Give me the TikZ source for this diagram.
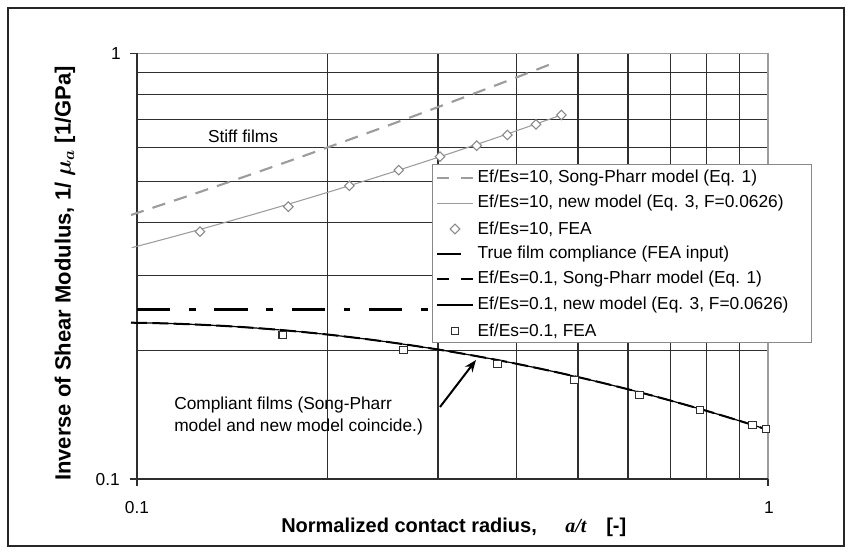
\documentclass[tikz,border=0pt]{standalone}
\usepackage{amsmath}
\usepackage{fontspec}
\setmainfont{Liberation Sans}
\newfontfamily\serifit{Liberation Serif}
\usetikzlibrary{arrows.meta,shapes.geometric}
\definecolor{gridc}{HTML}{2E2E2E}
\definecolor{lgray}{HTML}{9C9C9C}
\definecolor{mgray}{HTML}{888888}
\begin{document}
\begin{tikzpicture}[x=0.75pt,y=-0.75pt,
  gridline/.style={draw=gridc, line width=0.9pt},
  borderline/.style={draw=lgray, line width=0.8pt},
  axisline/.style={draw=gridc, line width=0.9pt},
  stiffsp/.style={draw=lgray, line width=1.6pt, dash pattern=on 10pt off 7pt},
  stiffnew/.style={draw=lgray, line width=0.8pt},
  softsp/.style={draw=black, line width=1.5pt, dash pattern=on 12pt off 4pt},
  softnew/.style={draw=black, line width=0.9pt},
  truefilm/.style={draw=black, line width=2.2pt, dash pattern=on 25pt off 14pt on 5pt off 14pt},
  truefilmleg/.style={draw=black, line width=2.2pt},
  diammark/.style={shape=diamond, draw=mgray, fill=white, line width=0.8pt, minimum width=7.5pt, minimum height=7.5pt, inner sep=0pt},
  sqmark/.style={shape=rectangle, draw=gridc, fill=white, line width=0.8pt, minimum size=5.6pt, inner sep=0pt},
  txt/.style={font=\fontsize{13}{15.6}\selectfont, inner sep=0pt},
  leg/.style={txt, anchor=west},
  ]
\useasboundingbox (0,0) rectangle (852,552);
% outer frame
\draw[line width=0.8pt, black!85] (8,8) rectangle (844,546);
% grid
\foreach \v in {0.2,0.3,0.4,0.5,0.6,0.7,0.8,0.9}
  \draw[gridline] (137,{53.3-425*log10(\v)}) -- (768,{53.3-425*log10(\v)});
\foreach \a in {0.2,0.3,0.4,0.5,0.6,0.7,0.8,0.9}
  \draw[gridline] ({768+631*log10(\a)},53.3) -- ({768+631*log10(\a)},479);
\draw[borderline] (137,53.3) -- (768,53.3) -- (768,479);
\draw[axisline] (137,53.3) -- (137,479) -- (768,479);
% ticks
\draw[axisline] (130,53.3) -- (137,53.3);
\draw[axisline] (130,479) -- (137,479);
\draw[axisline] (137,479) -- (137,486);
\draw[axisline] (768,479) -- (768,486);
% tick labels
\node[txt, anchor=east] (y1) at (121,53.3) {1};
\node[txt, anchor=east] (y01) at (120,480) {0.1};
\node[txt] (x01) at (137,508) {0.1};
\node[txt] (x1) at (769,508) {1};
% curves
\draw[truefilm] (137,309.3) -- (440,309.3);
\draw[stiffsp] plot[domain=131:556, samples=60] (\x, {215-0.33*(\x-131)-0.7*((\x-131)/100)^2});
\draw[stiffnew] plot[domain=131.7:565, samples=60] (\x, {247.7-0.2603*(\x-131.7)-1.132*((\x-131.7)/100)^2});
\draw[softnew] plot[domain=131:762, samples=80] (\x, {322.7+0.012*(\x-131)+2.453*((\x-131)/100)^2});
\draw[softsp] plot[domain=131:762, samples=80] (\x, {322.7+0.012*(\x-131)+2.453*((\x-131)/100)^2});
% markers
\foreach \p/\q [count=\i] in {200/231.7,288.3/206.7,349.4/185.7,398.8/170.1,440/156.7,476.7/145.7,507.3/135,536/124.3,561.3/115}
  \node[diammark] (d\i) at (\p,\q) {};
\foreach \p/\q [count=\i] in {282.7/335,403.3/350,497.3/364,574.3/380,639.3/395,700/410,752.3/425,766/429}
  \node[sqmark] (s\i) at (\p,\q) {};
% legend
\node[draw=mgray, fill=white, line width=0.8pt, minimum width=284.6pt, minimum height=133.3pt, inner sep=0pt, anchor=north west] (legend) at (431.7,164) {};
\draw[stiffsp, dash pattern=on 9pt off 9pt] (437,178.3) -- (473,178.3);
\node[leg] (l1) at (477.3,178.3) {Ef/Es=10, Song-Pharr model (Eq. 1)};
\draw[stiffnew] (437,203.3) -- (473,203.3);
\node[leg] (l2) at (477.3,203.3) {Ef/Es=10, new model (Eq. 3, F=0.0626)};
\node[diammark] (ld) at (455,229) {};
\node[leg] (l3) at (477.3,229) {Ef/Es=10, FEA};
\draw[truefilmleg] (437,254) -- (461,254);
\node[leg] (l4) at (477.3,254) {True film compliance (FEA input)};
\draw[softsp, dash pattern=on 9pt off 9pt] (437,279.3) -- (473,279.3);
\node[leg] (l5) at (477.3,279.3) {Ef/Es=0.1, Song-Pharr model (Eq. 1)};
\draw[softnew] (437,305) -- (473,305);
\node[leg] (l6) at (477.3,305) {Ef/Es=0.1, new model (Eq. 3, F=0.0626)};
\node[sqmark] (ls) at (455,331) {};
\node[leg] (l7) at (477.3,331) {Ef/Es=0.1, FEA};
% annotations
\node[txt] (stiff) at (243,136.7) {Stiff films};
\node[txt, anchor=west, align=left, font=\fontsize{13}{16.3}\selectfont] (compl) at (174,416) {Compliant films (Song-Pharr\\model and new model coincide.)};
\coordinate (arrS) at (440,407);
\coordinate (arrE) at (476,360);
\draw[-{Stealth[length=9pt,width=7pt]}, line width=1.5pt] (arrS) -- (arrE);
% axis titles
\node[font=\fontsize{15}{18}\selectfont\bfseries, anchor=base west, inner sep=0pt] (xlab) at (281,532) {Normalized contact radius,};
\node[font=\fontsize{15}{18}\selectfont\bfseries\serifit\itshape, anchor=base west, inner sep=0pt] (xat) at (565,532) {a/t};
\node[font=\fontsize{15}{18}\selectfont\bfseries, anchor=base west, inner sep=0pt] (xun) at (606,532) {[-]};
\node[font=\fontsize{16.5}{20}\selectfont\bfseries, rotate=90, inner sep=0pt] (ylab) at (65,273.5) {Inverse of Shear Modulus, 1/ $\boldsymbol{\mu_a}$ [1/GPa]};
\end{tikzpicture}
\end{document}
